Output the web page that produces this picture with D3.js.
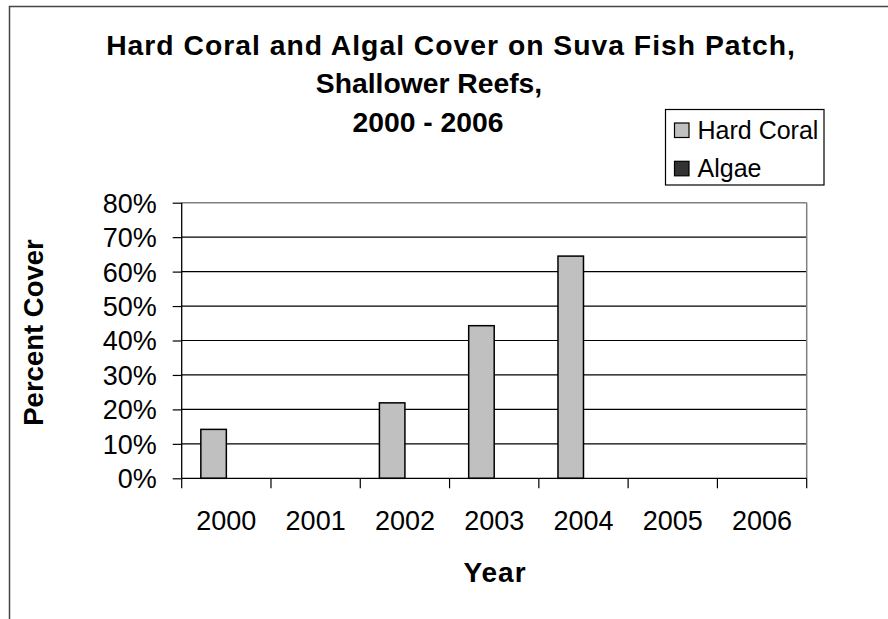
<!DOCTYPE html>
<html>
<head>
<meta charset="utf-8">
<script src="https://cdn.jsdelivr.net/npm/d3@7"></script>
<style>
  html, body { margin: 0; padding: 0; background: #fff; }
  svg { display: block; }
  text { font-family: "Liberation Sans", Arial, sans-serif; fill: #000; }
</style>
</head>
<body>
<script>
// ---- data ----
const years = ["2000", "2001", "2002", "2003", "2004", "2005", "2006"];
const seriesNames = ["Hard Coral", "Algae"];
const hardCoral = [14.2, null, 21.9, 44.3, 64.5, null, null];
const algae = [null, null, null, null, null, null, null];
const yTicks = [0, 10, 20, 30, 40, 50, 60, 70, 80];
const titleLines = ["Hard Coral and Algal Cover on Suva Fish Patch,", "Shallower Reefs,", "2000 - 2006"];
const xTitle = "Year";
const yTitle = "Percent Cover";
const seriesColors = ["#C0C0C0", "#333333"];

// ---- layout ----
const W = 888, H = 619;
const plot = { left: 181.7, right: 806.7, top: 202.7, bottom: 478.3 };

const svg = d3.select("body").append("svg").attr("width", W).attr("height", H);

// outer border (chart area frame, extends beyond window)
svg.append("path")
  .attr("d", `M9.5,${H + 2} L9.5,6.5 L${W + 2},6.5`)
  .attr("fill", "none").attr("stroke", "#444").attr("stroke-width", 1.5);

const x0 = d3.scaleBand().domain(years).range([plot.left, plot.right]).padding(0);
const x1 = d3.scaleBand().domain(seriesNames).range([0, x0.bandwidth()]).paddingInner(0).paddingOuter(0.75);
const y = d3.scaleLinear().domain([0, 80]).range([plot.bottom, plot.top]);

// gridlines
svg.append("g").selectAll("line").data(yTicks.filter(d => d > 0)).join("line")
  .attr("x1", plot.left).attr("x2", plot.right)
  .attr("y1", d => y(d)).attr("y2", d => y(d))
  .attr("stroke", d => d === 80 ? "#808080" : "#000").attr("stroke-width", d => d === 80 ? 1.5 : 1.2);

// right border of plot area
svg.append("line")
  .attr("x1", plot.right).attr("x2", plot.right).attr("y1", plot.top).attr("y2", plot.bottom)
  .attr("stroke", "#808080").attr("stroke-width", 1.5);

// bars
const seriesData = [hardCoral, algae];
const gBars = svg.append("g");
seriesData.forEach((vals, si) => {
  gBars.append("g").selectAll("rect")
    .data(vals.map((v, i) => ({ v, year: years[i] })).filter(d => d.v != null))
    .join("rect")
    .attr("x", d => x0(d.year) + x1(seriesNames[si]))
    .attr("width", x1.bandwidth())
    .attr("y", d => y(d.v))
    .attr("height", d => y(0) - y(d.v))
    .attr("fill", seriesColors[si])
    .attr("stroke", "#000").attr("stroke-width", 1.5);
});

// y axis
const yAxis = d3.axisLeft(y).tickValues(yTicks).tickSize(9).tickPadding(16)
  .tickFormat(d => d + "%");
const gy = svg.append("g").attr("transform", `translate(${plot.left},0)`).call(yAxis);
gy.select(".domain").attr("stroke", "#000").attr("stroke-width", 1.3).attr("d", `M0,${plot.top}V${plot.bottom}`);
gy.selectAll(".tick line").attr("stroke", "#000").attr("stroke-width", 1.2);
gy.selectAll(".tick text")
  .attr("font-family", "Liberation Sans, Arial, sans-serif")
  .attr("font-size", 27).attr("fill", "#000").attr("dy", "0.35em");

// x axis: ticks at category boundaries
const xAxis = d3.axisBottom(x0).tickSize(0);
const gx = svg.append("g").attr("transform", `translate(0,${plot.bottom})`).call(xAxis);
gx.select(".domain").attr("stroke", "#000").attr("stroke-width", 1.3).attr("d", `M${plot.left},0H${plot.right}`);
gx.selectAll(".tick text")
  .attr("font-family", "Liberation Sans, Arial, sans-serif")
  .attr("font-size", 27).attr("fill", "#000")
  .attr("y", 51.7).attr("dy", 0);
const boundaries = years.map(d => x0(d)).concat([x0(years[years.length - 1]) + x0.bandwidth()]);
gx.append("g").selectAll("line").data(boundaries).join("line")
  .attr("x1", d => d).attr("x2", d => d).attr("y1", 0).attr("y2", 10)
  .attr("stroke", "#000").attr("stroke-width", 1.2);

// title
const titleCenters = [451, 429, 428];
const titleBaselines = [55, 93.3, 131.7];
svg.append("g").selectAll("text").data(titleLines).join("text")
  .attr("x", (d, i) => titleCenters[i])
  .attr("y", (d, i) => titleBaselines[i])
  .attr("text-anchor", "middle")
  .attr("font-weight", "bold").attr("font-size", 28.3)
  .attr("letter-spacing", (d, i) => i === 0 ? 1 : 0)
  .text(d => d);

// axis titles
svg.append("text")
  .attr("x", 495).attr("y", 581.7)
  .attr("text-anchor", "middle").attr("font-weight", "bold").attr("font-size", 28)
  .attr("letter-spacing", 1)
  .text(xTitle);
svg.append("text")
  .attr("transform", "translate(43,332.5) rotate(-90)")
  .attr("text-anchor", "middle").attr("font-weight", "bold").attr("font-size", 27.5)
  .text(yTitle);

// legend
const legend = svg.append("g");
legend.append("rect")
  .attr("x", 665.5).attr("y", 109.5).attr("width", 158.5).attr("height", 75.5)
  .attr("fill", "#fff").attr("stroke", "#000").attr("stroke-width", 1.2);
const items = legend.selectAll("g.item").data(seriesNames).join("g").attr("class", "item")
  .attr("transform", (d, i) => `translate(674.5,${123 + i * 38.3})`);
items.append("rect").attr("width", 14.5).attr("height", 14.5)
  .attr("fill", (d, i) => seriesColors[i]).attr("stroke", "#000").attr("stroke-width", 1.2);
items.append("text").attr("x", 23).attr("y", 16)
  .attr("font-size", 25).text(d => d);
</script>
</body>
</html>
